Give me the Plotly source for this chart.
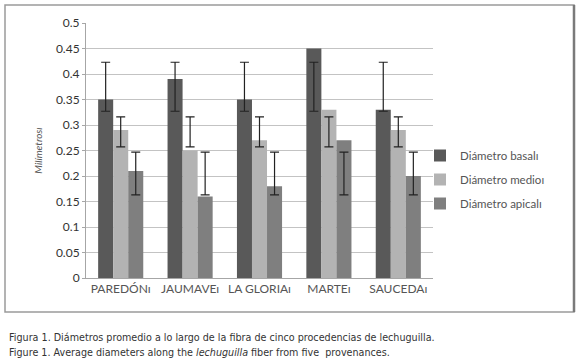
import plotly.graph_objects as go

categories = ["PAREDÓNı", "JAUMAVEı", "LA GLORIAı", "MARTEı", "SAUCEDAı"]
series_names = ["Diámetro basalı", "Diámetro medioı", "Diámetro apicalı"]
basal = [0.35, 0.39, 0.35, 0.45, 0.33]
medio = [0.29, 0.25, 0.27, 0.33, 0.29]
apical = [0.21, 0.16, 0.18, 0.27, 0.20]
# error bar extents (low, high), same for every category
basal_err = (0.327, 0.423)
medio_err = (0.257, 0.316)
apical_err = (0.163, 0.247)
y_ticks = [0, 0.05, 0.1, 0.15, 0.2, 0.25, 0.3, 0.35, 0.4, 0.45, 0.5]

colors = ["#595959", "#b3b3b3", "#7f7f7f"]
values = [basal, medio, apical]
errs = [basal_err, medio_err, apical_err]

W, H = 580, 363
L, R, T, B = 86, 147, 23, 85
pw, ph = W - L - R, H - T - B

def px(x):
    return (x - L) / pw

def py(y):
    return (H - B - y) / ph

fig = go.Figure()
for i, (name, vals, col) in enumerate(zip(series_names, values, colors)):
    fig.add_trace(go.Bar(x=categories, y=vals, name=name, marker_color=col,
                         marker_line_width=0, offsetgroup=str(i), legendgroup=str(i)))
for i, (lo, hi) in enumerate(errs):
    mid = [(lo + hi) / 2] * len(categories)
    half = [(hi - lo) / 2] * len(categories)
    fig.add_trace(go.Bar(x=categories, y=mid, offsetgroup=str(i), showlegend=False,
                         legendgroup=str(i),
                         marker=dict(color="rgba(0,0,0,0)", opacity=0,
                                     line=dict(width=0, color="rgba(0,0,0,0)")),
                         hoverinfo="skip",
                         error_y=dict(type="data", array=half, visible=True,
                                      color="#222222", thickness=1.2, width=4.5)))

fig.update_layout(
    width=W, height=H,
    margin=dict(l=L, r=R, t=T, b=B),
    barmode="group", bargap=0.35, bargroupgap=0,
    plot_bgcolor="white", paper_bgcolor="white",
    legend=dict(x=px(420), y=py(141), xanchor="left", yanchor="top",
                font=dict(family="Lato", size=11.5, color="#555555"),
                tracegroupgap=5, traceorder="grouped", itemwidth=30,
                bgcolor="rgba(0,0,0,0)"),
    font=dict(family="Lato"),
)
fig.update_yaxes(range=[0, 0.5], tickvals=y_ticks,
                 ticktext=[f"{v:g}" for v in y_ticks],
                 tickfont=dict(family="Lato", size=12, color="#333333"),
                 showgrid=True, gridcolor="#c3c3c3", gridwidth=1,
                 showline=True, linecolor="#a6a6a6", linewidth=1,
                 ticks="outside", ticklen=3, tickcolor="#a6a6a6",
                 zeroline=False,
                 title=dict(text="<i>Milímetrosı</i>", standoff=11,
                            font=dict(family="Lato", size=10, color="#555555")))
fig.update_xaxes(tickfont=dict(family="Lato", size=12, color="#555555"),
                 showline=True, linecolor="#a6a6a6", linewidth=1,
                 ticks="", showgrid=False)

# outer frame
fig.add_shape(type="rect", xref="paper", yref="paper",
              x0=px(5), x1=px(574), y0=py(312), y1=py(5),
              line=dict(color="#9a9a9a", width=1.5), layer="below")
fig.add_shape(type="line", xref="paper", yref="paper",
              x0=px(574), x1=px(574), y0=py(312), y1=py(5),
              line=dict(color="#7a7a7a", width=2.5))

captions = [
    "Figura 1. Diámetros promedio a lo largo de la fibra de cinco procedencias de lechuguilla.",
    "Figure 1. Average diameters along the <i>lechuguilla</i> fiber from five  provenances.",
]
for j, cap in enumerate(captions):
    fig.add_annotation(text=cap, xref="paper", yref="paper", x=px(7), y=py(337 + j * 15),
                       xanchor="left", yanchor="middle", showarrow=False,
                       font=dict(family="DejaVu Sans", size=9.6, color="#333333"))

fig.write_html("out.html")
